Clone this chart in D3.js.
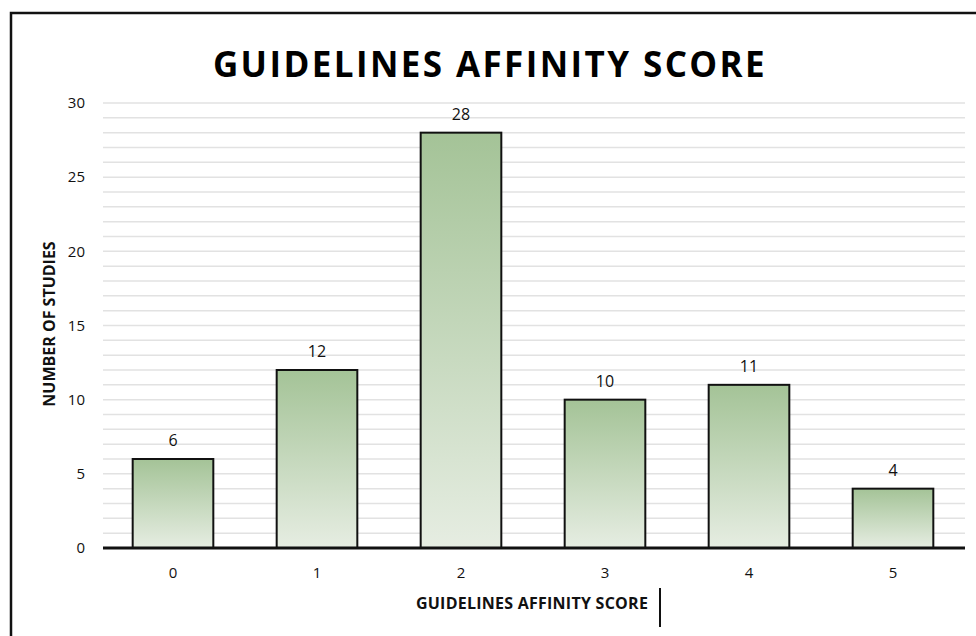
<!DOCTYPE html>
<html lang="en">
<head>
  <meta charset="UTF-8" />
  <title>Guidelines Affinity Score</title>
  <style>
    html, body { margin:0; padding:0; background:#fff; font-family:"Open Sans", sans-serif; }
    svg { display:block; }
  </style>
</head>
<body>
  <svg id="chart" width="976" height="636"></svg>
  <script src="https://d3js.org/d3.v7.min.js"></script>
  <script>
    // Data
    const scores = ["0", "1", "2", "3", "4", "5"];
    const studies = [6, 12, 28, 10, 11, 4];
    const yTicks = [0, 5, 10, 15, 20, 25, 30];

    const W = 976, H = 636;
    const plot = { left: 101, right: 965, top: 103, bottom: 548 };

    const svg = d3.select('#chart');

    // Frame (cut off right and bottom like the reference)
    svg.append('rect')
      .attr('x', 11).attr('y', 13)
      .attr('width', W + 20).attr('height', H + 20)
      .attr('fill', 'none').attr('stroke', '#111').attr('stroke-width', 2.5);

    const x = d3.scaleBand().domain(scores).range([plot.left, plot.right]).paddingInner(0.44).paddingOuter(0.22);
    const y = d3.scaleLinear().domain([0, 30]).range([plot.bottom, plot.top]);

    // Gradient
    const grad = svg.append('defs').append('linearGradient').attr('id', 'barGrad')
      .attr('x1', '0%').attr('y1', '0%').attr('x2', '0%').attr('y2', '100%');
    grad.append('stop').attr('offset', '0%').attr('stop-color', '#a4c397');
    grad.append('stop').attr('offset', '100%').attr('stop-color', '#e6ede2');

    // Minor gridlines every unit
    svg.append('g')
      .selectAll('line')
      .data(d3.range(1, 31))
      .join('line')
      .attr('x1', plot.left + 2).attr('x2', plot.right)
      .attr('y1', d => y(d)).attr('y2', d => y(d))
      .attr('stroke', '#e2e2e2').attr('stroke-width', 1.5);

    // Y axis labels
    const yAxis = svg.append('g')
      .attr('transform', `translate(${plot.left - 16},0)`)
      .call(d3.axisLeft(y).tickValues(yTicks).tickSize(0).tickPadding(0));
    yAxis.select('.domain').remove();
    yAxis.selectAll('text').attr('font-family', '"Open Sans", sans-serif').attr('font-size', 15).attr('fill', '#111');

    // Bars
    svg.append('g')
      .selectAll('rect')
      .data(studies)
      .join('rect')
      .attr('x', (d, i) => x(scores[i]))
      .attr('y', d => y(d))
      .attr('width', x.bandwidth())
      .attr('height', d => y(0) - y(d))
      .attr('fill', 'url(#barGrad)')
      .attr('stroke', '#111').attr('stroke-width', 2);

    // Value labels
    svg.append('g')
      .selectAll('text')
      .data(studies)
      .join('text')
      .attr('x', (d, i) => x(scores[i]) + x.bandwidth() / 2)
      .attr('y', d => y(d) - 13)
      .attr('text-anchor', 'middle')
      .attr('font-size', 16).attr('fill', '#111')
      .text(d => d);

    // Baseline
    svg.append('line')
      .attr('x1', plot.left + 2).attr('x2', plot.right)
      .attr('y1', y(0)).attr('y2', y(0))
      .attr('stroke', '#111').attr('stroke-width', 3);

    // X axis labels
    const xAxis = svg.append('g')
      .attr('transform', `translate(0,${y(0) + 19})`)
      .call(d3.axisBottom(x).tickSize(0).tickPadding(0));
    xAxis.select('.domain').remove();
    xAxis.selectAll('text').attr('font-family', '"Open Sans", sans-serif').attr('font-size', 15).attr('fill', '#111');

    // Title
    svg.append('text')
      .attr('x', 490).attr('y', 77)
      .attr('text-anchor', 'middle')
      .attr('font-size', 35).attr('font-weight', 'bold')
      .attr('letter-spacing', 2.4).attr('fill', '#000')
      .text('GUIDELINES AFFINITY SCORE');

    // Axis titles
    svg.append('text')
      .attr('x', 532).attr('y', 609)
      .attr('text-anchor', 'middle')
      .attr('font-size', 16).attr('font-weight', 'bold').attr('fill', '#111')
      .attr('letter-spacing', 0.25)
      .text('GUIDELINES AFFINITY SCORE');

    svg.append('text')
      .attr('transform', 'translate(55,324) rotate(-90)')
      .attr('text-anchor', 'middle')
      .attr('font-size', 16).attr('font-weight', 'bold').attr('fill', '#111')
      .text('NUMBER OF STUDIES');

    // text cursor mark next to the axis title
    svg.append('line')
      .attr('x1', 660).attr('x2', 660).attr('y1', 588).attr('y2', 627)
      .attr('stroke', '#111').attr('stroke-width', 2);
  </script>
</body>
</html>
